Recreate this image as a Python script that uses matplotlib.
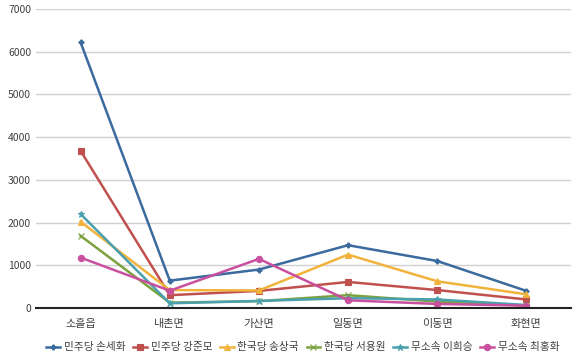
import matplotlib
matplotlib.use("Agg")
import matplotlib.pyplot as plt

plt.rcParams['font.family'] = ['Noto Sans CJK KR', 'DejaVu Sans']

categories = ['소흘읍', '내촌면', '가산면', '일동면', '이동면', '화현면']
series_names = ['민주당 손세화', '민주당 강준모', '한국당 송상국', '한국당 서용원', '무소속 이희승', '무소속 최홍화']
son = [6220, 640, 900, 1470, 1100, 400]
kang = [3680, 300, 400, 610, 420, 200]
song = [2020, 420, 410, 1250, 625, 320]
seo = [1690, 125, 160, 300, 150, 60]
lee = [2200, 110, 165, 230, 200, 70]
choi = [1180, 405, 1150, 180, 95, 55]

values = [son, kang, song, seo, lee, choi]
colors = ['#3A6A9E', '#C0504D', '#F2B33D', '#7BA23F', '#4AA0AE', '#C9509F']
markers = ['P', 's', '^', 'x', '*', 'o']
msizes = [3.5, 4, 4.5, 4.5, 5, 4.5]

fig = plt.figure(figsize=(5.8, 3.6), dpi=100)
ax = fig.add_axes([36/580, 1-308/360, 535/580, 299/360])

x = list(range(len(categories)))
handles = []
for name, vals, c, m, ms in zip(series_names, values, colors, markers, msizes):
    h, = ax.plot(x, vals, color=c, marker=m, markersize=ms, linewidth=1.8,
                 label=name, markeredgewidth=0.8)
    handles.append(h)

ax.set_xlim(-0.5, len(categories) - 0.5)
ax.set_ylim(0, 7000)
ax.set_yticks(range(0, 7001, 1000))
ax.set_xticks(x)
ax.set_xticklabels(categories)
ax.yaxis.grid(True, color='#D0D0D0', linewidth=1)
ax.set_axisbelow(True)
for s in ['top', 'right', 'left']:
    ax.spines[s].set_visible(False)
ax.spines['bottom'].set_color('#222222')
ax.spines['bottom'].set_linewidth(1.5)
ax.tick_params(axis='y', length=0, labelsize=7.5, colors='#404040')
ax.tick_params(axis='x', length=0, labelsize=8, colors='#404040', pad=8)

fig.legend(handles=handles, loc='center', bbox_to_anchor=(0.522, 0.035), ncol=6,
           frameon=False, fontsize=7.7, handlelength=1.3, handletextpad=0.35,
           columnspacing=0.7, labelcolor='#404040')

fig.savefig('out.png', dpi=100, facecolor='white')
